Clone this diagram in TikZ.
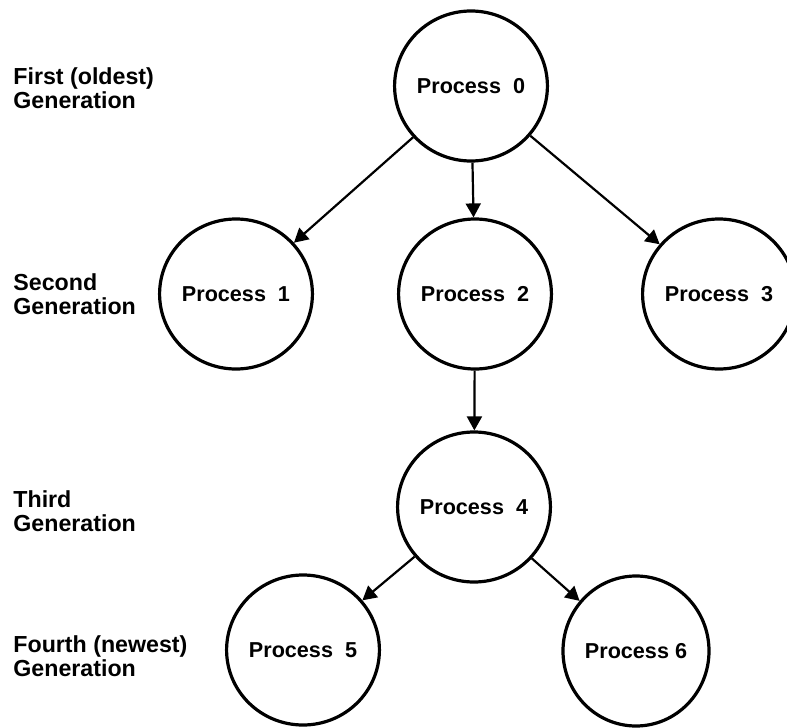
\documentclass[tikz,border=0pt]{standalone}
\usepackage{fontspec}
\setmainfont{Liberation Sans}
\usetikzlibrary{shapes.geometric,arrows.meta}
\begin{document}
\begin{tikzpicture}[x=0.5pt, y=-0.5pt,
  procnode/.style={shape=ellipse, draw=black, line width=1.6pt, minimum width=73pt, minimum height=75pt, inner sep=0pt, font=\fontsize{10.8}{12}\selectfont\bfseries },
  gennode/.style={anchor=base west, align=left, inner sep=0pt, font=\fontsize{11.6}{12}\selectfont\bfseries },
  childarrow/.style={-{Triangle[length=7pt, width=7.5pt]}, line width=1.1pt },
]
\useasboundingbox (0,0) rectangle (787,728);
%%%generations
\node[gennode] (gen1) at (13,108) {First (oldest)\\Generation};
\node[gennode] (gen2) at (13,314) {Second\\Generation};
\node[gennode] (gen3) at (13,531) {Third\\Generation};
\node[gennode] (gen4) at (13,676) {Fourth (newest)\\Generation};
%%%processes
\node[procnode] (p0) at (471,86) {Process\ \ 0};
\node[procnode] (p1) at (236,294) {Process\ \ 1};
\node[procnode] (p2) at (475,294) {Process\ \ 2};
\node[procnode] (p3) at (719,294) {Process\ \ 3};
\node[procnode] (p4) at (474,507) {Process\ \ 4};
\node[procnode] (p5) at (303,650) {Process\ \ 5};
\node[procnode] (p6) at (636,651) {Process 6};
%%%%%%%%%
\foreach \a/\b in {p0/p1, p0/p2, p0/p3, p2/p4, p4/p5, p4/p6} {
  \draw[childarrow] (\a) -- (\b);
}
\end{tikzpicture}
\end{document}
